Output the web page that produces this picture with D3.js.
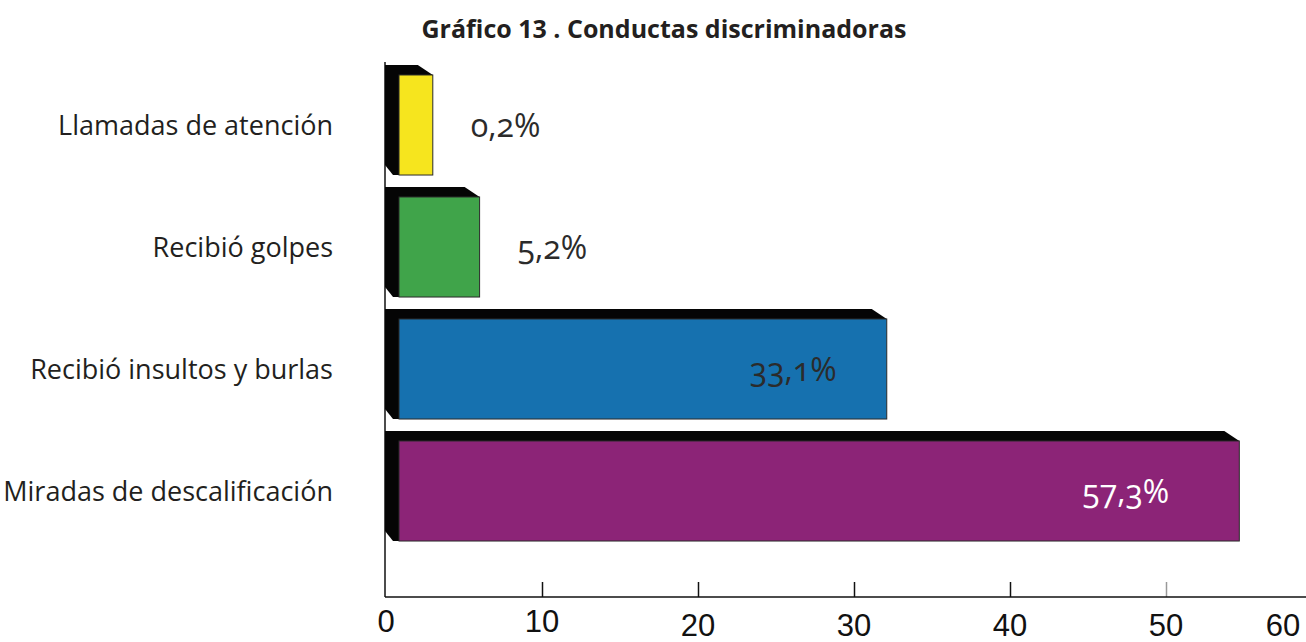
<!DOCTYPE html>
<html>
<head>
<meta charset="utf-8">
<script src="https://cdn.jsdelivr.net/npm/d3@7"></script>
<style>
  body { margin: 0; background: #fff; }
  svg { display: block; }
</style>
</head>
<body>
<script>
//Width and height
var w = 1306;
var h = 642;

//Data (bars drawn at their visible length, labels as printed)
var categories = ["Llamadas de atención", "Recibió golpes", "Recibió insultos y burlas", "Miradas de descalificación"];
var barLengths = [3.0, 6.0, 32.1, 54.7];
var valueLabels = ["0,2%", "5,2%", "33,1%", "57,3%"];
var barColors = ["#f6e51e", "#40a44a", "#1671af", "#8c2477"];
var tickValues = [0, 10, 20, 30, 40, 50, 60];
var title = "Gráfico 13 . Conductas discriminadoras";

var svg = d3.select("body")
            .append("svg")
            .attr("width", w)
            .attr("height", h);

//Scales
var x = d3.scaleLinear()
          .domain([0, 10])
          .range([386, 542]);

var y = d3.scaleBand()
          .domain(categories)
          .range([64, 552])
          .paddingInner(0.18)
          .paddingOuter(0.09);

var depthX = 14, depthY = 10;

//Title
svg.append("text")
   .attr("x", 664)
   .attr("y", 38)
   .attr("text-anchor", "middle")
   .attr("font-family", "'Open Sans', sans-serif")
   .attr("font-weight", "bold")
   .attr("font-size", 25)
   .attr("textLength", 485)
   .attr("lengthAdjust", "spacingAndGlyphs")
   .attr("fill", "#231f20")
   .text(title);

//Axes lines
var axisY = 597;
svg.append("line")
   .attr("x1", x(0) - 1).attr("x2", x(0) - 1)
   .attr("y1", 62).attr("y2", axisY)
   .attr("stroke", "#111").attr("stroke-width", 1.5);

var xAxis = d3.axisBottom(x)
              .tickValues(tickValues.filter(function(d) { return d > 0 && d < 60; }))
              .tickSize(-15)
              .tickFormat("");

var gx = svg.append("g")
            .attr("transform", "translate(0," + axisY + ")")
            .call(xAxis);
gx.select(".domain").remove();
gx.selectAll(".tick line")
  .attr("stroke", function(d) { return d == 50 ? "#999" : "#111"; })
  .attr("stroke-width", 1.5);

svg.append("line")
   .attr("x1", x(0) - 1).attr("x2", w)
   .attr("y1", axisY).attr("y2", axisY)
   .attr("stroke", "#111").attr("stroke-width", 1.5);

//Tick labels (the last one is pulled inside the frame)
svg.selectAll("text.tick-label")
   .data(tickValues)
   .enter()
   .append("text")
   .attr("class", "tick-label")
   .attr("x", function(d) { return Math.min(x(d), w - 23); })
   .attr("y", function(d) { return d <= 10 ? 632 : 636; })
   .attr("text-anchor", "middle")
   .attr("font-family", "'Liberation Sans Narrow', 'Liberation Sans', sans-serif")
   .attr("font-size", 31)
   .attr("fill", "#111")
   .text(function(d) { return d; });

//Category labels
svg.selectAll("text.cat")
   .data(categories)
   .enter()
   .append("text")
   .attr("class", "cat")
   .attr("x", 333)
   .attr("y", function(d) { return y(d) + y.bandwidth() / 2 + 10; })
   .attr("text-anchor", "end")
   .attr("font-family", "'Open Sans', sans-serif")
   .attr("font-size", 27)
   .attr("fill", "#231f20")
   .text(function(d) { return d; });

//Bars: black extrusion behind a coloured front face
var bars = svg.selectAll("g.bar")
              .data(categories)
              .enter()
              .append("g")
              .attr("class", "bar");

bars.append("path")
    .attr("fill", "#050505")
    .attr("d", function(d, i) {
        var x0 = x(0) - 1, x1 = x(barLengths[i]);
        var y0 = y(d), y1 = y(d) + y.bandwidth();
        return "M" + x0 + "," + (y0 - depthY) +
               "L" + (x1 - 15) + "," + (y0 - depthY) +
               "L" + x1 + "," + y0 +
               "L" + (x0 + depthX) + "," + y1 +
               "L" + (x0 + depthX - 6) + "," + y1 +
               "L" + x0 + "," + (y1 - depthY) + "Z";
    });

bars.append("rect")
    .attr("x", x(0) - 1 + depthX)
    .attr("y", function(d) { return y(d); })
    .attr("width", function(d, i) { return x(barLengths[i]) - x(0) + 1 - depthX; })
    .attr("height", y.bandwidth())
    .attr("fill", function(d, i) { return barColors[i]; })
    .attr("stroke", "#2a2a2a")
    .attr("stroke-width", 1);

//Value labels: outside short bars, inside long ones
bars.append("text")
    .attr("x", function(d, i) {
        return barLengths[i] < 20 ? x(barLengths[i]) + 38 : x(barLengths[i]) - (barLengths[i] > 50 ? 70 : 50);
    })
    .attr("y", function(d) { return y(d) + y.bandwidth() / 2 + 12; })
    .attr("text-anchor", function(d, i) { return barLengths[i] < 20 ? "start" : "end"; })
    .attr("font-family", "'Open Sans', sans-serif")
    .attr("font-size", 32)
    .style("font-variant-numeric", "oldstyle-nums")
    .attr("fill", function(d, i) { return barLengths[i] > 50 ? "#ffffff" : "#2b2b2b"; })
    .text(function(d, i) { return valueLabels[i]; });
</script>
</body>
</html>
